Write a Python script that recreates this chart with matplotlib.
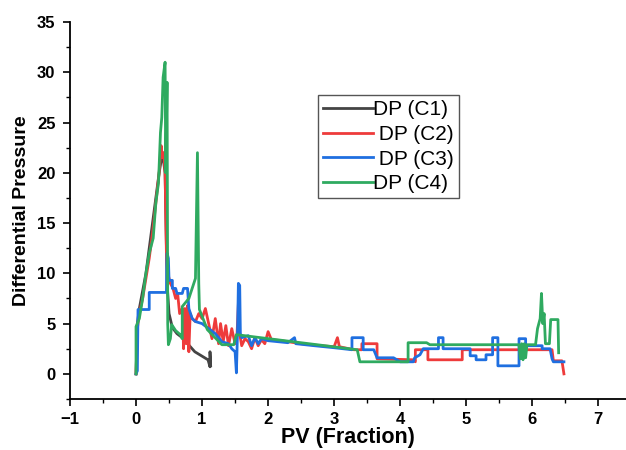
import matplotlib
matplotlib.use("Agg")
import matplotlib.pyplot as plt
from matplotlib.ticker import MultipleLocator

plt.rcParams['font.family'] = ['Liberation Sans', 'DejaVu Sans']

# ---- data ----
c1_x = [0, 0.02, 0.05, 0.15, 0.25, 0.35, 0.40, 0.44, 0.47, 0.50, 0.55, 0.62, 0.70, 0.89, 1.09, 1.12, 1.12, 1.13]
c1_y = [0, 5.0, 6.5, 10.0, 15.0, 20.0, 22.0, 20.0, 9.0, 6.0, 4.6, 4.0, 3.6, 2.2, 1.4, 0.7, 2.2, 0.8]

c2_x = [0, 0.02, 0.05, 0.10, 0.15, 0.20, 0.25, 0.30, 0.35, 0.38, 0.40, 0.42, 0.44, 0.46, 0.48,
        0.52, 0.56, 0.60, 0.63, 0.66, 0.70, 0.72, 0.74, 0.76, 0.78, 0.80, 0.82, 0.85, 0.90, 0.95,
        1.00, 1.05, 1.10, 1.15, 1.20, 1.25, 1.28, 1.32, 1.36, 1.40, 1.45, 1.50, 1.53, 1.55, 1.57,
        1.60, 1.65, 1.70, 1.75, 1.80, 1.85, 1.90, 1.95, 2.00, 2.05, 2.20, 2.50, 2.80, 3.00, 3.05,
        3.08, 3.30, 3.42, 3.42, 3.65, 3.65, 4.20, 4.23, 4.23, 4.42, 4.42, 4.94, 4.94, 6.30, 6.32,
        6.45, 6.48]
c2_y = [0, 4.5, 6.0, 7.5, 9.5, 11.5, 14.0, 17.0, 20.0, 22.7, 21.5, 22.0, 20.0, 12.0, 10.0,
        9.0, 8.5, 7.5, 8.0, 6.0, 6.5, 2.5, 6.5, 3.0, 6.8, 2.2, 6.0, 5.5, 5.2, 6.0,
        5.5, 6.5, 5.0, 3.5, 5.5, 3.0, 5.0, 3.2, 4.8, 2.8, 4.5, 3.0, 4.0, 7.0, 4.0,
        2.8, 3.5, 3.2, 2.5, 3.6, 2.8, 3.4, 3.0, 4.2, 3.4, 3.3, 3.0, 2.8, 2.7, 3.6,
        2.7, 2.4, 2.4, 3.0, 3.0, 1.5, 1.4, 1.2, 2.4, 2.4, 1.4, 1.4, 2.4, 2.4, 1.3,
        1.3, 0.0]

c3_x = [0, 0.02, 0.03, 0.20, 0.20, 0.46, 0.47, 0.49, 0.50, 0.55, 0.55, 0.60, 0.62, 0.70, 0.72,
        0.78, 0.80, 0.85, 0.90, 1.00, 1.10, 1.20, 1.30, 1.40, 1.45, 1.50, 1.52, 1.54, 1.55, 1.57,
        1.58, 1.60, 1.70, 1.75, 1.80, 1.85, 1.90, 2.00, 2.30, 2.40, 2.42, 2.70, 3.00, 3.27, 3.27,
        3.44, 3.44, 3.60, 3.65, 3.90, 4.00, 4.20, 4.22, 4.30, 4.35, 4.58, 4.58, 4.65, 4.65, 5.06,
        5.06, 5.15, 5.15, 5.30, 5.30, 5.40, 5.40, 5.48, 5.48, 5.80, 5.80, 5.90, 5.90, 6.15, 6.15,
        6.27, 6.30, 6.32, 6.48]
c3_y = [0, 0.3, 6.4, 6.4, 8.1, 8.1, 12.0, 11.5, 9.3, 9.3, 8.5, 8.5, 8.0, 8.0, 8.5,
        8.5, 6.5, 5.5, 5.2, 5.0, 4.5, 4.0, 3.2, 3.0, 2.5, 2.2, 0.1, 5.0, 9.0, 8.8,
        4.0, 3.6, 3.8, 2.8, 3.6, 3.0, 3.5, 3.3, 3.1, 3.6, 3.0, 2.8, 2.6, 2.4, 3.6,
        3.6, 2.4, 2.4, 1.6, 1.6, 1.2, 1.2, 1.6, 1.9, 2.5, 2.5, 3.6, 3.6, 2.5, 2.5,
        1.8, 1.8, 1.4, 1.4, 1.9, 1.9, 3.6, 3.6, 0.8, 0.8, 3.5, 3.5, 2.8, 2.8, 2.5,
        2.5, 1.5, 1.2, 1.2]

c4_x = [0, 0.0, 0.05, 0.10, 0.15, 0.20, 0.26, 0.30, 0.34, 0.37, 0.39, 0.41, 0.44, 0.45, 0.47,
        0.48, 0.49, 0.52, 0.54, 0.60, 0.67, 0.70, 0.70, 0.80, 0.90, 0.93, 0.95, 0.96, 1.08, 1.30,
        1.48, 1.52, 3.35, 3.39, 4.12, 4.12, 4.40, 4.45, 5.80, 5.82, 5.84, 5.86, 5.88, 5.90, 5.92,
        6.05, 6.08, 6.12, 6.14, 6.16, 6.18, 6.20, 6.26, 6.28, 6.39, 6.40]
c4_y = [0, 4.7, 5.5, 7.5, 10.0, 12.0, 13.5, 17.0, 19.0, 24.0, 25.5, 29.5, 31.0, 20.0, 29.0,
        5.0, 2.9, 3.5, 4.9, 4.3, 3.9, 3.5, 6.7, 7.5, 9.5, 22.0, 9.0, 6.4, 4.4, 2.9,
        2.9, 3.9, 2.4, 1.2, 1.2, 3.1, 3.1, 2.9, 2.9, 1.5, 3.0, 1.4, 3.0, 1.6, 2.9,
        2.9, 4.5, 5.5, 8.0, 5.0, 6.0, 3.0, 3.0, 5.4, 5.4, 2.1]

series = [
    ("DP (C1)", c1_x, c1_y, "#444444"),
    (" DP (C2)", c2_x, c2_y, "#EE3B3B"),
    (" DP (C3)", c3_x, c3_y, "#1F6FE0"),
    ("DP (C4)", c4_x, c4_y, "#2FAA60"),
]

fig = plt.figure(figsize=(6.26, 4.5), dpi=100)
ax = fig.add_axes([70/626, 51/450, 556/626, 377/450])

for label, xs, ys, col in series:
    ax.plot(xs, ys, color=col, lw=2.0, label=label)

ax.set_xlim(-1, 7.42)
ax.set_ylim(-2.5, 35)
ax.xaxis.set_major_locator(MultipleLocator(1))
ax.xaxis.set_minor_locator(MultipleLocator(0.5))
ax.yaxis.set_major_locator(MultipleLocator(5))
ax.yaxis.set_minor_locator(MultipleLocator(2.5))
ax.spines['top'].set_visible(False)
ax.spines['right'].set_visible(False)
for s in ('left', 'bottom'):
    ax.spines[s].set_linewidth(1.3)
ax.tick_params(which='major', direction='out', length=5, width=1.2, labelsize=12)
ax.tick_params(axis='x', which='major', pad=4)
ax.tick_params(axis='y', which='major', pad=5.5)
ax.tick_params(which='minor', direction='out', length=3, width=1.0)
for t in ax.get_xticklabels() + ax.get_yticklabels():
    t.set_fontweight('bold')

ax.set_xlabel("PV (Fraction)", fontsize=15.5, fontweight='bold', labelpad=0)
ax.set_ylabel("Differential Pressure", fontsize=14, fontweight='bold', labelpad=5)

leg = ax.legend(loc='upper left', bbox_to_anchor=(0.446, 0.806), borderaxespad=0,
                fancybox=False, frameon=True, edgecolor='#555555', fontsize=15,
                handlelength=2.4, handletextpad=0.0, labelspacing=0.27,
                borderpad=0.25, framealpha=1)
leg.get_frame().set_linewidth(1.0)

fig.savefig("out.png", dpi=100)
